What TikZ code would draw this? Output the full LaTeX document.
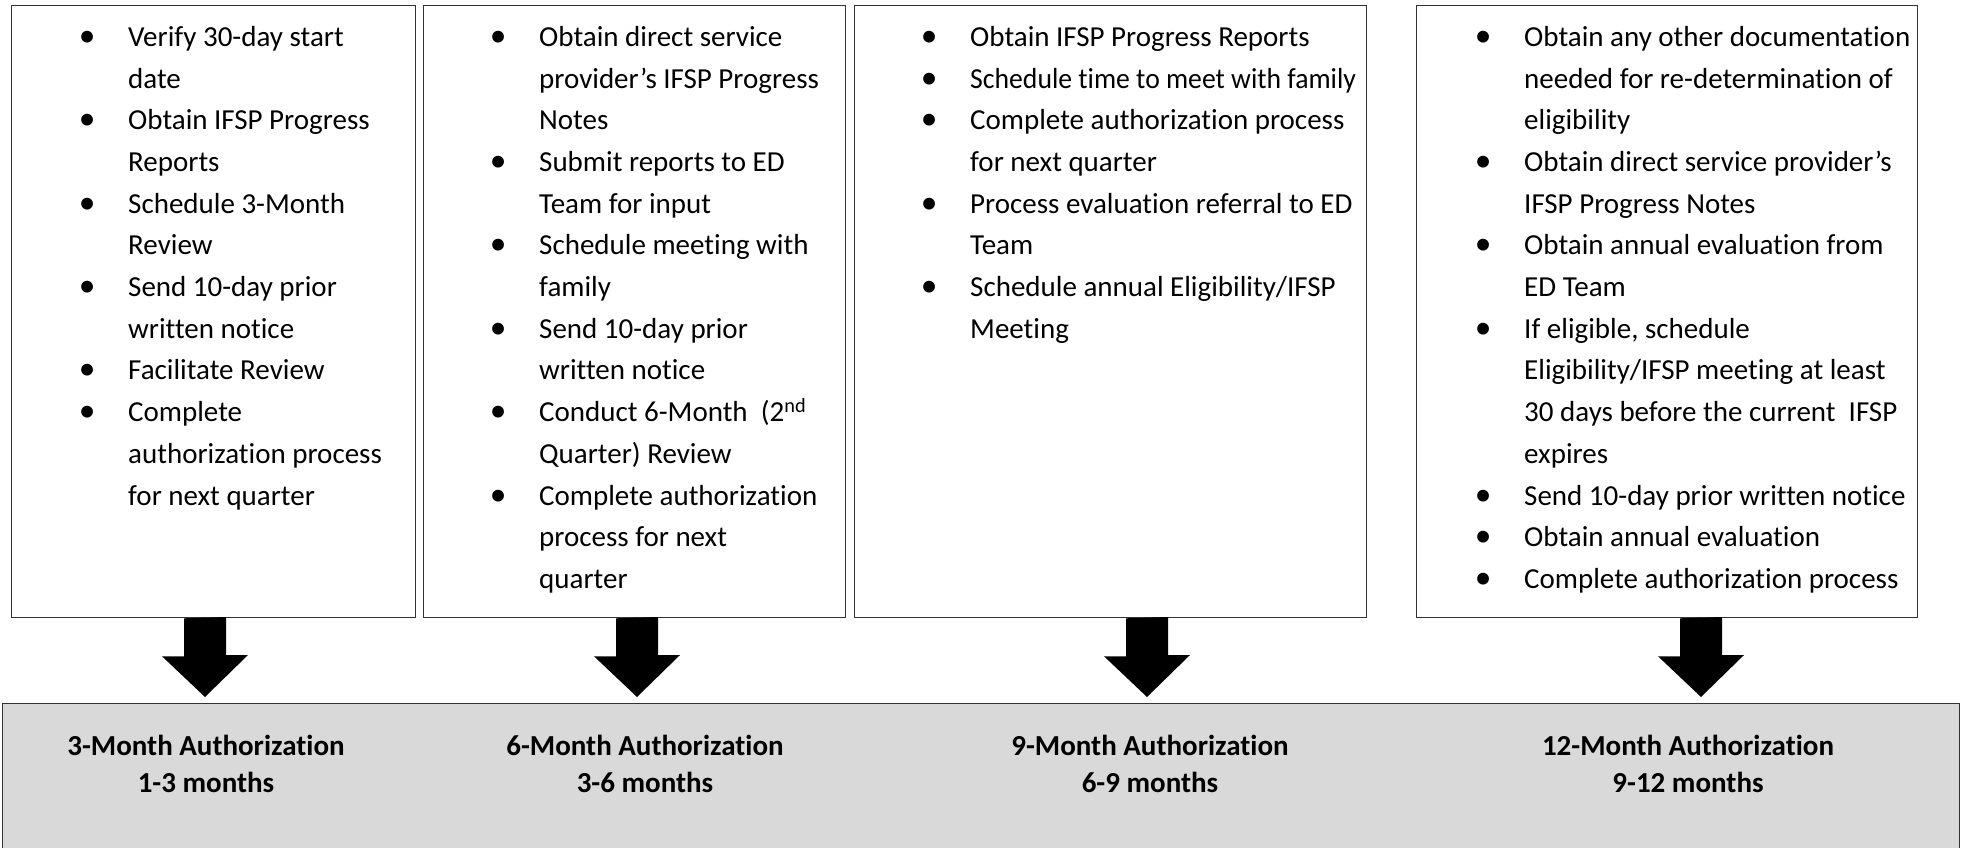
\documentclass[tikz,border=0pt]{standalone}
\usepackage{fontspec}
\setmainfont{Carlito}[Ligatures=NoCommon]
\usepackage{tikz}
\pgfkeys{tikz/taskbox/.style={draw=black!80, line width=1.3pt, fill=white,
                                  inner sep=0pt, anchor=north west}}
\pgfkeys{tikz/tasklist/.style={align=left, inner sep=0pt, anchor=north west,
                                   font=\fontsize{29}{41.7}\selectfont}}
\pgfkeys{tikz/periodlabel/.style={align=center, inner sep=0pt,
                                      font=\fontsize{29}{37}\selectfont\bfseries}}
\newcommand{\taskbullet}{\llap{\makebox[0pt]{\scalebox{1.15}{\textbullet}}\hspace{41pt}}}

\begin{document}
\begin{tikzpicture}[x=1pt, y=-1pt]
                \useasboundingbox (0,0) rectangle (1961,848);

                \node[taskbox, minimum width=404pt, minimum height=612pt] (box1) at (11,5) {};
                \node[taskbox, minimum width=422pt, minimum height=612pt] (box2) at (423,5) {};
                \node[taskbox, minimum width=512pt, minimum height=612pt] (box3) at (854,5) {};
                \node[taskbox, minimum width=501pt, minimum height=612pt] (box4) at (1416,5) {};

                \node[tasklist] (list1) at (128,26) {%
                    \taskbullet Verify 30-day start\\
                    date\\
                    \taskbullet Obtain IFSP Progress\\
                    Reports\\
                    \taskbullet Schedule 3-Month\\
                    Review\\
                    \taskbullet Send 10-day prior\\
                    written notice\\
                    \taskbullet Facilitate Review\\
                    \taskbullet Complete\\
                    authorization process\\
                    for next quarter};
                \node[tasklist] (list2) at (539,26) {%
                    \taskbullet Obtain direct service\\
                    provider’s IFSP Progress\\
                    Notes\\
                    \taskbullet Submit reports to ED\\
                    Team for input\\
                    \taskbullet Schedule meeting with\\
                    family\\
                    \taskbullet Send 10-day prior\\
                    written notice\\
                    \taskbullet Conduct 6-Month\ \ (2\textsuperscript{nd}\\
                    Quarter) Review\\
                    \taskbullet Complete authorization\\
                    process for next\\
                    quarter};
                \node[tasklist] (list3) at (970,26) {%
                    \taskbullet Obtain IFSP Progress Reports\\
                    \taskbullet \scalebox{0.955}[1]{Schedule time to meet with family}\\
                    \taskbullet Complete authorization process\\
                    for next quarter\\
                    \taskbullet Process evaluation referral to ED\\
                    Team\\
                    \taskbullet Schedule annual Eligibility/IFSP\\
                    Meeting};
                \node[tasklist] (list4) at (1524,26) {%
                    \taskbullet Obtain any other documentation\\
                    needed for re-determination of\\
                    eligibility\\
                    \taskbullet Obtain direct service provider’s\\
                    IFSP Progress Notes\\
                    \taskbullet Obtain annual evaluation from\\
                    ED Team\\
                    \taskbullet If eligible, schedule\\
                    Eligibility/IFSP meeting at least\\
                    30 days before the current\ \ IFSP\\
                    expires\\
                    \taskbullet Send 10-day prior written notice\\
                    \taskbullet Obtain annual evaluation\\
                    \taskbullet Complete authorization process};

                \node[taskbox, fill=black!15, minimum width=1957pt, minimum height=200pt] (bar) at (2,703) {};

                \node[periodlabel] (lab1) at (206,764) {3-Month Authorization\\1-3 months};
                \node[periodlabel] (lab2) at (645,764) {6-Month Authorization\\3-6 months};
                \node[periodlabel] (lab3) at (1150,764) {9-Month Authorization\\6-9 months};
                \node[periodlabel] (lab4) at (1688,764) {12-Month Authorization\\9-12 months};

                \coordinate (a1) at (205,697);
                \coordinate (a2) at (637,697);
                \coordinate (a3) at (1147,697);
                \coordinate (a4) at (1701,697);

                \fill (box1.south -| a1) ++(-21,0) -- ++(0,38) -- ++(-22,0) -- (a1) -- ++(43,-42) -- ++(-22,0) -- ++(0,-38) -- cycle;
                \fill (box2.south -| a2) ++(-21,0) -- ++(0,38) -- ++(-22,0) -- (a2) -- ++(43,-42) -- ++(-22,0) -- ++(0,-38) -- cycle;
                \fill (box3.south -| a3) ++(-21,0) -- ++(0,38) -- ++(-22,0) -- (a3) -- ++(43,-42) -- ++(-22,0) -- ++(0,-38) -- cycle;
                \fill (box4.south -| a4) ++(-21,0) -- ++(0,38) -- ++(-22,0) -- (a4) -- ++(43,-42) -- ++(-22,0) -- ++(0,-38) -- cycle;

            \end{tikzpicture}
\end{document}
